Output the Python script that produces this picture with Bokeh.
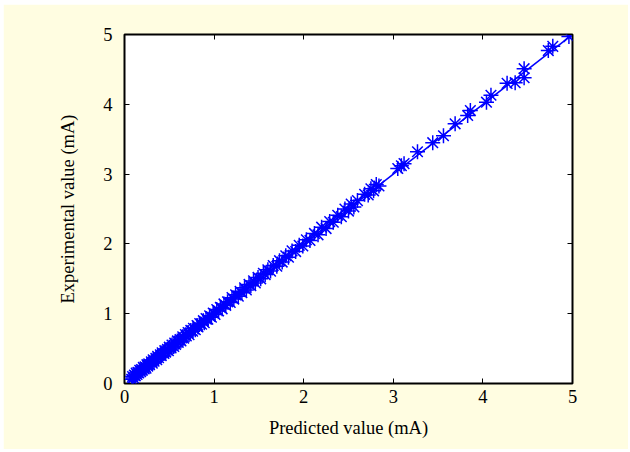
from bokeh.plotting import figure
from bokeh.models import Range1d, LinearAxis, FixedTicker
from bokeh.embed import file_html
from bokeh.resources import INLINE

predicted = [0.08,0.09,0.10,0.11,0.12,0.13,0.14,0.15,0.16,0.17,0.18,0.19,0.20,0.21,0.22,0.23,0.24,0.25,0.26,0.27,0.28,0.30,0.31,0.32,0.33,0.35,0.36,0.37,0.38,0.40,0.41,0.42,0.44,0.45,0.46,0.48,0.49,0.50,0.52,0.53,0.55,0.56,0.57,0.59,0.60,0.62,0.63,0.65,0.66,0.68,0.69,0.71,0.72,0.74,0.76,0.77,0.79,0.81,0.82,0.84,0.86,0.88,0.89,0.91,0.93,0.95,0.97,0.99,1.01,1.03,1.05,1.07,1.09,1.11,1.13,1.15,1.18,1.20,1.22,1.24,1.27,1.29,1.31,1.34,1.36,1.39,1.41,1.44,1.46,1.49,1.52,1.55,1.57,1.60,1.63,1.66,1.70,1.73,1.76,1.80,1.83,1.87,1.91,1.95,1.99,2.03,2.07,2.12,2.16,2.20,2.25,2.29,2.33,2.38,2.42,2.46,2.50,2.53,2.56,2.60,2.68,2.72,2.75,2.78,2.81,2.84,3.05,3.09,3.12,3.27,3.44,3.56,3.69,3.83,3.86,4.04,4.09,4.27,4.36,4.46,4.46,4.73,4.78,4.96]
experimental = [0.06,0.10,0.08,0.12,0.11,0.15,0.13,0.16,0.15,0.19,0.17,0.20,0.19,0.23,0.21,0.24,0.22,0.27,0.25,0.28,0.27,0.31,0.29,0.34,0.32,0.36,0.34,0.39,0.37,0.41,0.40,0.44,0.43,0.47,0.45,0.49,0.47,0.52,0.51,0.55,0.53,0.58,0.56,0.61,0.59,0.63,0.61,0.67,0.65,0.70,0.68,0.73,0.70,0.76,0.75,0.79,0.77,0.83,0.81,0.86,0.85,0.90,0.87,0.93,0.92,0.97,0.95,1.01,0.99,1.06,1.04,1.09,1.07,1.14,1.12,1.17,1.16,1.23,1.21,1.27,1.25,1.32,1.30,1.37,1.34,1.42,1.40,1.47,1.44,1.52,1.50,1.58,1.56,1.63,1.61,1.69,1.68,1.76,1.74,1.83,1.81,1.90,1.89,1.98,1.97,2.06,2.05,2.15,2.13,2.24,2.22,2.32,2.31,2.41,2.39,2.50,2.47,2.57,2.53,2.62,2.71,2.70,2.79,2.76,2.85,2.83,3.08,3.12,3.15,3.32,3.45,3.55,3.72,3.84,3.91,4.03,4.13,4.30,4.31,4.51,4.38,4.77,4.83,4.97]
ideal_x = [0.08, 4.97]
ideal_y = [0.08, 4.97]
ticks = [0, 1, 2, 3, 4, 5]

FONT = "Liberation Serif"
BG = "#FFFDE1"

p = figure(width=625, height=445, margin=(4, 2, 3, 3),
           x_range=Range1d(0, 5), y_range=Range1d(0, 5),
           output_backend="svg", toolbar_location=None,
           background_fill_color="white", border_fill_color=BG,
           min_border_left=121, min_border_right=56,
           min_border_top=30, min_border_bottom=66)
p.grid.visible = False
p.outline_line_color = "black"
p.outline_line_width = 2

p.line(ideal_x, ideal_y, line_color="#0000FF", line_width=1.5)
p.scatter(predicted, experimental, marker="asterisk", size=15,
          line_color="#0000FF", line_width=1.5)

def style(ax, labels=True):
    ax.ticker = FixedTicker(ticks=ticks)
    ax.axis_line_color = None
    ax.major_tick_in = 5
    ax.major_tick_out = 0
    ax.minor_tick_line_color = None
    ax.major_tick_line_color = "black"
    ax.major_tick_line_width = 1
    ax.major_label_text_font = FONT
    ax.major_label_text_font_size = "18.5px"
    ax.major_label_text_color = "black"
    ax.axis_label_text_font = FONT
    ax.axis_label_text_font_size = "18.5px"
    ax.axis_label_text_font_style = "normal"
    ax.axis_label_text_color = "black"
    if not labels:
        ax.major_label_overrides = {t: "" for t in ticks}

style(p.xaxis[0])
style(p.yaxis[0])
p.xaxis[0].axis_label = "Predicted value (mA)"
p.yaxis[0].axis_label = "Experimental value (mA)"
p.xaxis[0].major_label_standoff = 6
p.yaxis[0].major_label_standoff = 12
p.xaxis[0].axis_label_standoff = 12
p.yaxis[0].axis_label_standoff = 22

top = LinearAxis()
right = LinearAxis()
style(top, labels=False)
style(right, labels=False)
p.add_layout(top, "above")
p.add_layout(right, "right")

open("out.html", "w").write(file_html(p, INLINE))
